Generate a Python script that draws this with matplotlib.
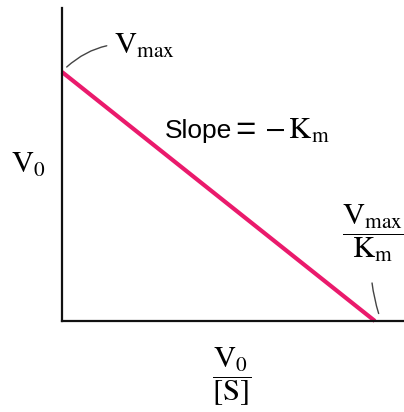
import matplotlib
matplotlib.use("Agg")
import matplotlib.pyplot as plt

plt.rcParams['mathtext.fontset'] = 'stix'

# Eadie-Hofstee plot: V0 against V0/[S]
v_max = 1.0
k_m = 1.0
x_end = v_max / k_m
x_vals = [0.0, x_end]
y_vals = [v_max, v_max - k_m * x_end]

fig = plt.figure(figsize=(4.04, 4.12), dpi=100)
ax = fig.add_axes([62 / 404, 91 / 412, 342 / 404, 313 / 412])

ax.plot(x_vals, y_vals, color='#ea1a6c', lw=3, solid_capstyle='butt', clip_on=False)

ax.set_xlim(0, 1.093)
ax.set_ylim(0, 1.257)
for s in ['top', 'right']:
    ax.spines[s].set_visible(False)
for s in ['left', 'bottom']:
    ax.spines[s].set_linewidth(1.6)
    ax.spines[s].set_color('#111111')
ax.set_xticks([])
ax.set_yticks([])

# axis labels
fig.text(28 / 404, 1 - 164 / 412, r'$\mathrm{V}_0$', fontsize=22, ha='center', va='center')
fig.text(232 / 404, 1 - 377 / 412, r'$\dfrac{\mathrm{V}_0}{[\mathrm{S}]}$', fontsize=22,
         ha='center', va='center')

ax.annotate(r'$\mathrm{V}_{\mathrm{max}}$', xy=(0.015, v_max + 0.02), xytext=(0.165, 1.105),
            fontsize=22, ha='left', va='center',
            arrowprops=dict(arrowstyle='-', color='#444444', lw=1,
                            connectionstyle='arc3,rad=0.25', shrinkA=3, shrinkB=0))

ax.text(0.33, 0.765, 'Slope', fontsize=19, family='Liberation Sans', ha='left', va='center')
ax.text(0.555, 0.765, '=', fontsize=25, family='Liberation Sans', ha='left', va='center')
ax.text(0.645, 0.765, r'$-\,\mathrm{K}_\mathrm{m}$', fontsize=22, ha='left', va='center')

ax.annotate(r'$\dfrac{\mathrm{V}_{\mathrm{max}}}{\mathrm{K}_\mathrm{m}}$', xy=(x_end + 0.012, 0.03),
            xytext=(0.995, 0.355), fontsize=22, ha='center', va='center',
            arrowprops=dict(arrowstyle='-', color='#444444', lw=1,
                            connectionstyle='arc3,rad=0.12', shrinkA=12, shrinkB=0))

fig.savefig('out.png', dpi=100)
